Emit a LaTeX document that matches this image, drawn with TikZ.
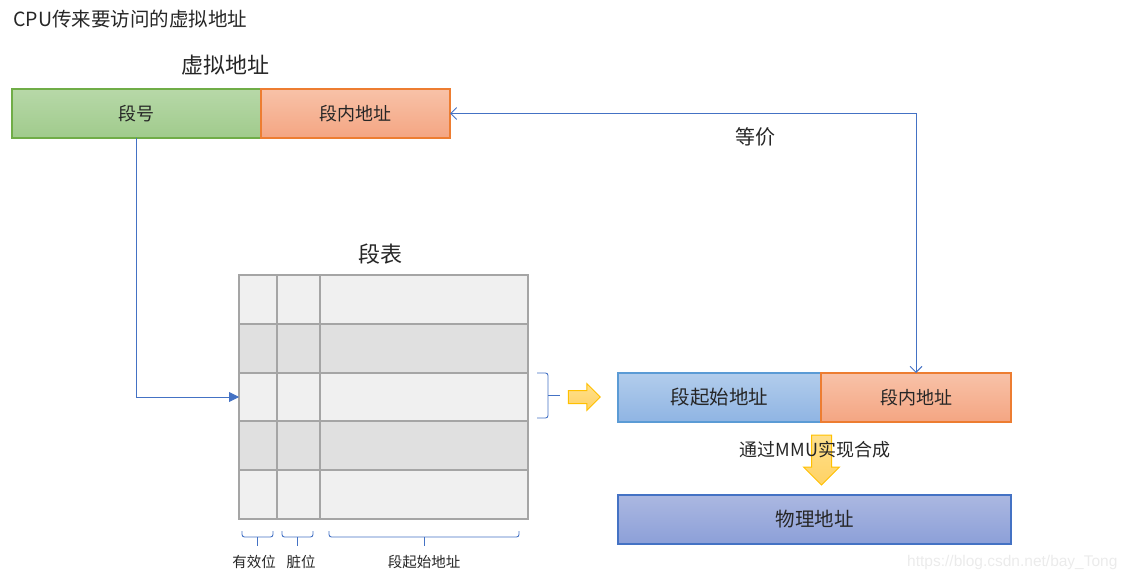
\documentclass[tikz,border=0pt]{standalone}
\usepackage{fontspec}
\setmainfont{Noto Sans CJK SC}
\newfontfamily\wmfont{Liberation Sans}
\usetikzlibrary{arrows.meta,positioning,shapes.arrows}
\definecolor{segborder}{RGB}{112,173,71}
\definecolor{segtop}{RGB}{183,216,168}
\definecolor{segbot}{RGB}{160,203,140}
\definecolor{offborder}{RGB}{237,125,49}
\definecolor{offtopc}{RGB}{248,194,168}
\definecolor{offbotc}{RGB}{244,165,130}
\definecolor{baseborder}{RGB}{91,155,213}
\definecolor{basetop}{RGB}{178,205,236}
\definecolor{basebot}{RGB}{143,180,227}
\definecolor{physborder}{RGB}{68,114,196}
\definecolor{phystop}{RGB}{171,184,225}
\definecolor{physbot}{RGB}{140,159,216}
\definecolor{linkblue}{RGB}{68,114,196}
\definecolor{cellline}{RGB}{165,165,165}
\definecolor{celllight}{RGB}{240,240,240}
\definecolor{celldark}{RGB}{224,224,224}
\definecolor{goldline}{RGB}{255,192,0}
\definecolor{goldtop}{RGB}{255,224,140}
\definecolor{goldbot}{RGB}{255,210,100}

\begin{document}
\begin{tikzpicture}[
  x=1pt, y=-1pt,
  every node/.style={text=black!85},
  field/.style={draw, line width=1.2pt, inner sep=0pt, outer sep=0pt, minimum height=49pt,
                font=\fontsize{18}{20}\selectfont},
  segfield/.style={field, draw=segborder, top color=segtop, bottom color=segbot},
  offfield/.style={field, draw=offborder, top color=offtopc, bottom color=offbotc},
  basefield/.style={field, draw=baseborder, top color=basetop, bottom color=basebot,
                    font=\fontsize{19.5}{22}\selectfont},
  physfield/.style={field, draw=physborder, top color=phystop, bottom color=physbot,
                    font=\fontsize{19.5}{22}\selectfont},
  cell/.style={draw=cellline, line width=2pt, minimum width=289pt, minimum height=48.8pt,
               inner sep=0pt, outer sep=0pt},
  title/.style={font=\fontsize{22}{26}\selectfont},
  colname/.style={font=\fontsize{14.5}{17}\selectfont},
  link/.style={draw=linkblue, line width=0.9pt},
  brace/.style={linkblue, line width=0.9pt, rounded corners=2.5pt},
  bigarrow/.style={single arrow, draw=goldline, line width=1pt, top color=goldtop,
                   bottom color=goldbot, outer sep=0pt},
]
  \useasboundingbox (0,0) rectangle (1129,580);

  \node[anchor=west, font=\fontsize{19.5}{22}\selectfont] (cpu) at (10,19) {CPU传来要访问的虚拟地址};
  \node[title] (vtitle) at (225,65) {虚拟地址};
  \node[segfield, minimum width=249pt, anchor=north west] (segno) at (12,89) {段号};
  \node[offfield, minimum width=189pt, right=0pt of segno] (offtop) {段内地址};

  \node[title] (ttitle) at (380,254) {段表};
  \foreach \i/\c in {1/celllight,2/celldark,3/celllight,4/celldark,5/celllight}
    \node[cell, fill=\c] (r\i) at (383.5,{250.6+\i*48.8}) {};
  \draw[cellline, line width=2pt] (277,275) -- (277,519) (320,275) -- (320,519);

  \foreach \a/\b in {242/273,282/313,329/519} {
    \draw[brace] (\a,531) |- (\b,537) -- (\b,531);
    \draw[brace] ({(\a+\b)/2},537) -- ++(0,9);
  }
  \node[colname] (valid) at (254,562) {有效位};
  \node[colname] (dirty) at (301,562) {脏位};
  \node[colname] (sbase) at (424,562) {段起始地址};

  \draw[brace] (537,373) -| (548,418) -- (537,418);
  \draw[brace] (548,395.5) -- (560,395.5);
  \node[bigarrow, inner sep=6pt, minimum height=32pt, single arrow head extend=7pt] (toright) at (581,397) {};

  \node[basefield, minimum width=203pt, anchor=north west] (segbase) at (618,373) {段起始地址};
  \node[offfield, minimum width=190pt, right=0pt of segbase, font=\fontsize{18}{20}\selectfont] (offbot) {段内地址};

  \node[bigarrow, shape border rotate=270, inner sep=9.5pt, minimum height=50pt,
        single arrow head extend=8pt] (todown) at (821.5,455) {};
  \node[font=\fontsize{18}{20}\selectfont] (mmu) at (815,450) {通过MMU实现合成};
  \node[physfield, minimum width=393pt, anchor=north west] (phys) at (618,495) {物理地址};

  \node[font=\fontsize{20}{22}\selectfont] (equiv) at (755,137) {等价};

  \draw[link, -{Triangle[length=10pt,width=10pt]}] (segno.south) |- (r3.west);
  \draw[link, {Straight Barb[length=6pt,width=12pt]}-{Straight Barb[length=6pt,width=12pt]}]
    (offtop.east) -| (offbot.north);

  \node[font=\wmfont\fontsize{15.5}{18}\selectfont, text=black!8, anchor=east] (wm) at (1121,562)
    {https://blog.csdn.net/bay\_Tong};
\end{tikzpicture}
\end{document}
